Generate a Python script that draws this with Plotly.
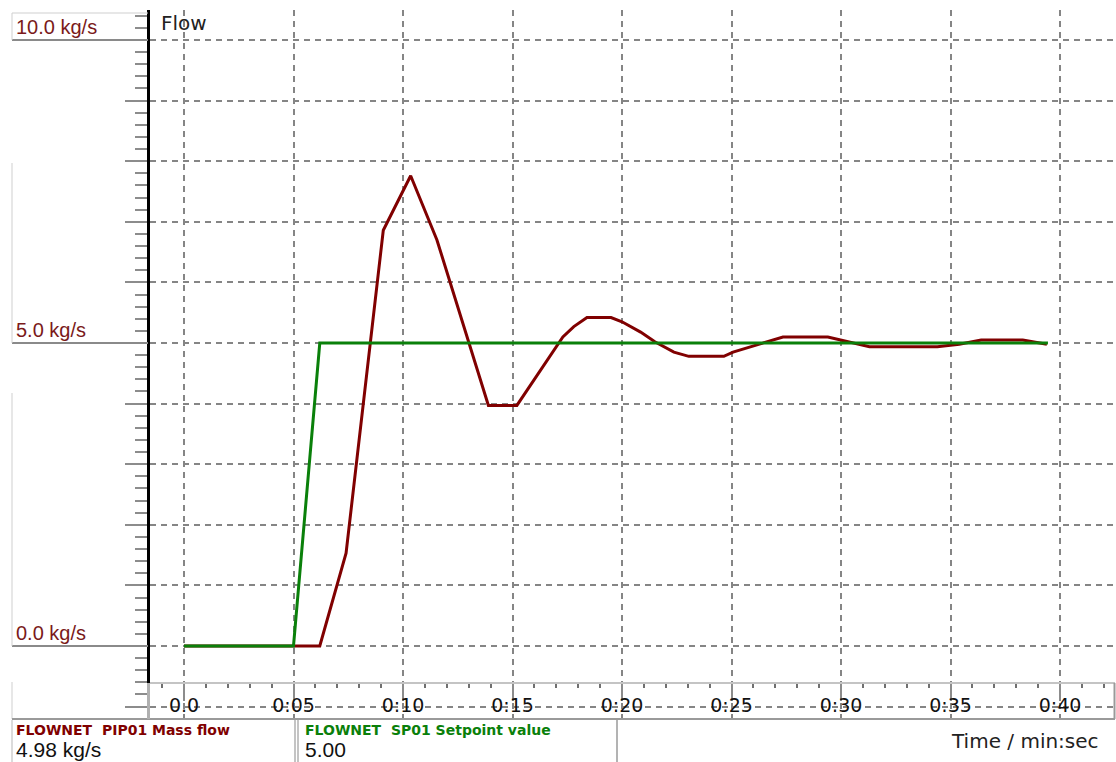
import plotly.graph_objects as go

# ---------------- data ----------------
time_mass_flow = [0.0, 6.2, 7.4, 9.1, 10.35, 11.55, 13.9, 15.2, 17.3, 17.8, 18.4, 19.5,
                  20.0, 20.85, 21.5, 22.37, 23.05, 24.65, 25.07, 26.4, 27.35, 29.4,
                  30.4, 31.3, 34.4, 35.4, 36.4, 38.3, 39.4]
mass_flow = [0.0, 0.0, 1.53, 6.86, 7.76, 6.70, 3.97, 3.97, 5.10, 5.27, 5.42, 5.42,
             5.35, 5.18, 5.02, 4.85, 4.78, 4.78, 4.85, 5.00, 5.10, 5.10,
             5.02, 4.94, 4.94, 4.98, 5.05, 5.05, 4.98]

time_setpoint = [0.0, 5.0, 6.2, 39.45]
setpoint = [0.0, 0.0, 5.0, 5.0]

x_tick_vals = [0, 5, 10, 15, 20, 25, 30, 35, 40]
x_tick_text = ["0.0", "0:05", "0:10", "0:15", "0:20", "0:25", "0:30", "0:35", "0:40"]
x_minor_vals = list(range(-1, 43))

y_label_vals = [0.0, 5.0, 10.0]
y_label_text = ["0.0 kg/s", "5.0 kg/s", "10.0 kg/s"]

series_names = ["FLOWNET  PIP01 Mass flow", "FLOWNET  SP01 Setpoint value"]
current_values = ["4.98 kg/s", "5.00"]
series_colors = ["#800000", "#0a800a"]

chart_title = "Flow"
x_title = "Time / min:sec"

# ---------------- geometry helpers (layout only) ----------------
W, H = 1116, 762
L, R, T, B = 150, 1, 10, 43
PW, PH = W - L - R, H - T - B


def px(x):
    return (x - L) / PW


def py(y):
    return (H - B - y) / PH


X_RANGE = [(L - 184) / 21.9, (W - R - 184) / 21.9]
Y_RANGE = [(646 - (H - B)) / 60.6, (646 - T) / 60.6]

GRID = "#858585"
TICK = "#8c8c8c"

fig = go.Figure()
fig.add_trace(go.Scatter(x=time_mass_flow, y=mass_flow, mode="lines",
                         line=dict(color=series_colors[0], width=3),
                         name=series_names[0], hoverinfo="skip"))
fig.add_trace(go.Scatter(x=time_setpoint, y=setpoint, mode="lines",
                         line=dict(color=series_colors[1], width=3),
                         name=series_names[1], hoverinfo="skip"))

band_top = py(683)

shapes = []
# white band under the x axis hides the grid
shapes.append(dict(type="rect", xref="paper", yref="paper", x0=0, x1=1, y0=0, y1=band_top,
                   fillcolor="white", line=dict(width=0), layer="between"))
# value label lines on the left panel
for v in y_label_vals:
    shapes.append(dict(type="line", xref="paper", yref="y", x0=px(12), x1=px(148), y0=v, y1=v,
                       line=dict(color="#8a8a8a", width=2), layer="above"))
# light grey label box borders
light = "#cfcfcf"
shapes.append(dict(type="line", xref="paper", yref="paper", x0=px(12), x1=px(148), y0=py(13), y1=py(13),
                   line=dict(color=light, width=1)))
for (ya, yb) in [(13, 40), (163, 343), (393, 646), (682, 719)]:
    shapes.append(dict(type="line", xref="paper", yref="paper", x0=px(12), x1=px(12), y0=py(ya), y1=py(yb),
                       line=dict(color=light, width=1)))
# bottom border of the x band, right border
shapes.append(dict(type="line", xref="paper", yref="paper", x0=px(12), x1=1, y0=py(719), y1=py(719),
                   line=dict(color="#9a9a9a", width=2), layer="above"))
shapes.append(dict(type="line", xref="paper", yref="paper", x0=px(1114.5), x1=px(1114.5), y0=py(719), y1=band_top,
                   line=dict(color="#9a9a9a", width=2), layer="above"))
# grey continuation of the value axis below the time axis
shapes.append(dict(type="line", xref="paper", yref="paper", x0=px(148.5), x1=px(148.5), y0=py(719), y1=band_top,
                   line=dict(color="#b0b0b0", width=3), layer="above"))
# legend box borders
for xb, col in [(12, light), (295, "#b0b0b0"), (298, "#b0b0b0"), (617, "#9a9a9a")]:
    shapes.append(dict(type="line", xref="paper", yref="paper", x0=px(xb), x1=px(xb), y0=py(720), y1=py(762),
                       line=dict(color=col, width=1.5)))

annotations = []
for v, txt in zip(y_label_vals, y_label_text):
    annotations.append(dict(xref="paper", yref="y", x=px(14), y=v, text=txt, showarrow=False,
                            xanchor="left", yanchor="bottom", yshift=0,
                            font=dict(family="Liberation Sans", size=20, color="#7a1a1a")))
annotations.append(dict(xref="paper", yref="paper", x=px(159), y=py(23), text=chart_title, showarrow=False,
                        xanchor="left", yanchor="middle",
                        font=dict(family="DejaVu Sans", size=20, color="#222222")))
annotations.append(dict(xref="paper", yref="paper", x=px(1101), y=py(741), text=x_title, showarrow=False,
                        xanchor="right", yanchor="middle",
                        font=dict(family="DejaVu Sans", size=20, color="#222222")))
for i, xl in enumerate([14, 303]):
    annotations.append(dict(xref="paper", yref="paper", x=px(xl), y=py(730), text=series_names[i],
                            showarrow=False, xanchor="left", yanchor="middle",
                            font=dict(family="DejaVu Sans", size=14, color=series_colors[i], weight="bold")))
    annotations.append(dict(xref="paper", yref="paper", x=px(xl), y=py(749), text=current_values[i],
                            showarrow=False, xanchor="left", yanchor="middle",
                            font=dict(family="Liberation Sans", size=21, color="#111111")))

fig.update_layout(
    width=W, height=H, autosize=False,
    margin=dict(l=L, r=R, t=T, b=B, pad=0),
    paper_bgcolor="white", plot_bgcolor="white",
    showlegend=False,
    shapes=shapes, annotations=annotations,
    xaxis=dict(range=X_RANGE, anchor="free", position=band_top, side="bottom",
               showline=True, linecolor="#c4c4c4", linewidth=2,
               tickmode="array", tickvals=x_tick_vals, ticktext=x_tick_text,
               ticks="outside", ticklen=17, tickwidth=2, tickcolor=TICK,
               ticklabelstandoff=-12,
               tickfont=dict(family="DejaVu Sans", size=19, color="#111111"),
               showgrid=True, gridcolor=GRID, gridwidth=2, griddash="6px,5px",
               zeroline=False,
               minor=dict(tickmode="array", tickvals=x_minor_vals, ticks="outside", ticklen=4,
                          tickwidth=2, tickcolor="#707070", showgrid=False)),
    yaxis=dict(range=Y_RANGE, side="left", showline=True, linecolor="black", linewidth=3,
               tickmode="linear", tick0=0, dtick=1,
               ticks="outside", ticklen=22, tickwidth=2, tickcolor=TICK,
               showticklabels=False,
               showgrid=True, gridcolor=GRID, gridwidth=2, griddash="6px,5px",
               zeroline=False,
               minor=dict(tick0=0, dtick=0.2, ticks="outside", ticklen=12, tickwidth=2,
                          tickcolor=TICK, showgrid=False)),
)

fig.write_html("out.html")
